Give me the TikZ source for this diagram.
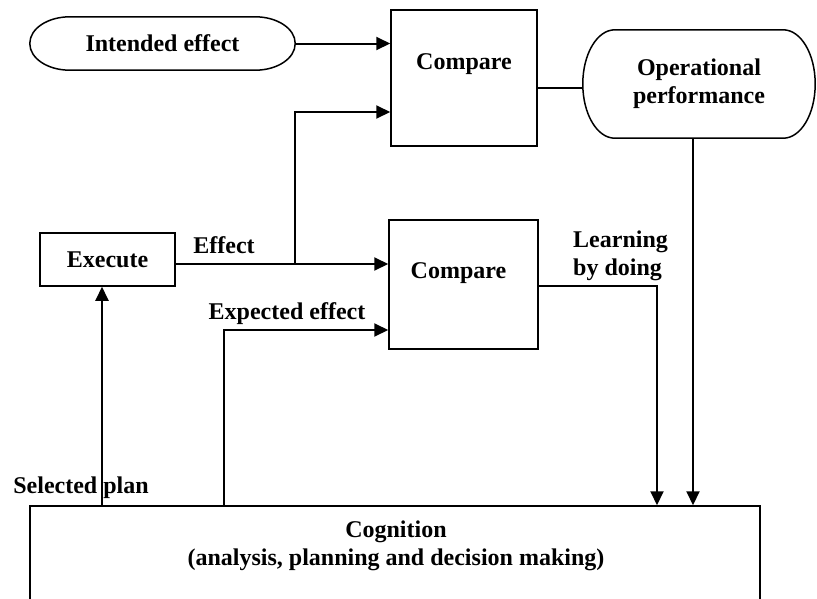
\documentclass[tikz,border=0pt]{standalone}
\usepackage{fontspec}
\setmainfont{Liberation Serif}
\usetikzlibrary{arrows.meta,calc}
\newcommand\termoutline[3]{%
  \draw[line width=1.5pt] ([xshift=#2]#1.north west) -- ([xshift=-#2]#1.north east)
    arc[start angle=90,end angle=0,x radius=#2,y radius=#3]
    -- ([yshift=#3]#1.south east)
    arc[start angle=0,end angle=-90,x radius=#2,y radius=#3]
    -- ([xshift=#2]#1.south west)
    arc[start angle=270,end angle=180,x radius=#2,y radius=#3]
    -- ([yshift=-#3]#1.north west)
    arc[start angle=180,end angle=90,x radius=#2,y radius=#3] -- cycle;}
\tikzset{
  box/.style={draw, line width=1.5pt, inner sep=0pt},
  term/.style={inner sep=0pt, font=\bfseries\fontsize{24}{28}\selectfont, align=center},
  txt/.style={font=\bfseries\fontsize{24}{28}\selectfont, inner sep=0pt},
  conn/.style={line width=2pt},
  arr/.style={conn, -{Triangle[length=14pt,width=13pt]}},
}
\begin{document}
\begin{tikzpicture}[x=1pt,y=-1pt]
\useasboundingbox (0,0) rectangle (817,598);
\clip (0,0) rectangle (817,598);
% terminals
\node[term, minimum width=265pt, minimum height=53pt] (ie) at (162.5,43.5) {Intended effect};
\termoutline{ie}{40pt}{26.5pt}
\node[term, minimum width=232pt, minimum height=108pt] (op) at (699,84) {Operational\\performance};
\termoutline{op}{32pt}{54pt}
% boxes
\node[box, minimum width=146pt, minimum height=136pt] (cmp1) at (464,78) {};
\node[txt] (cmp1t) at ([yshift=-55pt]cmp1.north) {Compare};
\node[box, minimum width=149pt, minimum height=129pt] (cmp2) at (463.5,284.5) {};
\node[txt] (cmp2t) at ([xshift=-5pt,yshift=-54pt]cmp2.north) {Compare};
\node[box, minimum width=135pt, minimum height=53pt, txt] (exec) at (107.5,259.5) {Execute};
\node[box, minimum width=730pt, minimum height=134pt] (cog) at (395,573) {};
\node[txt, align=center] (cogt) at (396,546) {Cognition\\(analysis, planning and decision making)};
% labels
\node[txt] (leff) at (224,245) {Effect};
\node[txt] (lexp) at (287,314) {Expected effect};
\node[txt, align=left, anchor=west] (llbd) at (573,256) {Learning\\by doing};
\node[txt] (lsel) at (81,488) {Selected plan};
% junction coordinates
\coordinate (ej) at (295,264);
\coordinate (eu) at (295,112);
\coordinate (xe) at (224,330);
\coordinate (lb) at (657,286);
\coordinate (cl) at (560,88);
\coordinate (ov) at (693,138);
\coordinate (sp) at (102,400);
% connectors
\draw[arr] (ie.east) -- (cmp1.west |- ie.east);
\draw[arr] (ej) -- (eu) -- (cmp1.west |- eu);
\draw[arr] (exec.east |- ej) -- (cmp2.west |- ej);
\draw[arr] (cog.north -| xe) -- (xe) -- (cmp2.west |- xe);
\draw[arr] (cmp2.east |- lb) -- (lb) -- (cog.north -| lb);
\draw[conn] (cmp1.east |- cl) -- (op.west |- cl);
\draw[arr] (op.south -| ov) -- (cog.north -| ov);
\draw[arr] (cog.north -| sp) -- (exec.south -| sp);
\end{tikzpicture}
\end{document}
